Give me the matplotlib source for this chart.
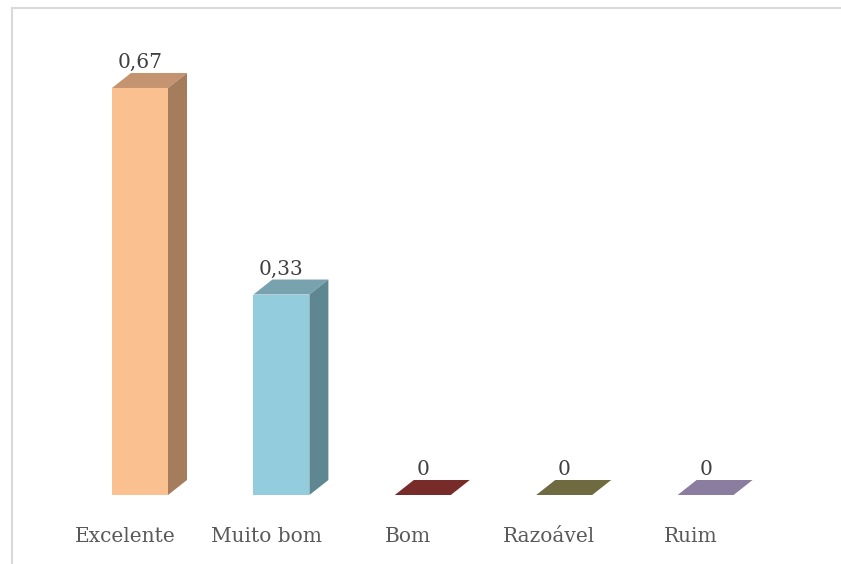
import numpy as np
import matplotlib.pyplot as plt
from matplotlib.patches import Polygon
from matplotlib.lines import Line2D

categories = ['Excelente', 'Muito bom', 'Bom', 'Razoável', 'Ruim']
values = [0.67, 0.33, 0.0, 0.0, 0.0]
value_labels = ['0,67', '0,33', '0', '0', '0']

front_colors = ['#FAC090', '#93CDDD', '#772C2A', '#6F6A40', '#8B7DA0']
top_colors = ['#C3946F', '#77A2AE', '#772C2A', '#6F6A40', '#8B7DA0']
side_colors = ['#A57D5C', '#5E8791', '#5A2120', '#545030', '#6C6080']

W, H = 841, 564
fig = plt.figure(figsize=(W / 100, H / 100), dpi=100)
ax = fig.add_axes([0, 0, 1, 1])

# pixel mapping: x_px = 140 + 141.4*x ; y_px = 495 - 607.5*v
sx, x0 = 141.4, 140
sy, y0 = 607.5, 495
ax.set_xlim(-x0 / sx, (W - x0) / sx)
ax.set_ylim((y0 - H) / sy, y0 / sy)
ax.axis('off')

bw = 56 / sx          # bar width in data units
dx = 19 / sx          # depth offset
dy = 15 / sy

x = np.arange(len(categories))
ax.bar(x, values, width=bw, color=front_colors, zorder=2)

for i, v in enumerate(values):
    l, r = x[i] - bw / 2, x[i] + bw / 2
    top = Polygon([(l, v), (r, v), (r + dx, v + dy), (l + dx, v + dy)],
                  closed=True, facecolor=top_colors[i], edgecolor='none', zorder=3)
    ax.add_patch(top)
    if v > 0:
        side = Polygon([(r, 0), (r + dx, dy), (r + dx, v + dy), (r, v)],
                       closed=True, facecolor=side_colors[i], edgecolor='none', zorder=3)
        ax.add_patch(side)
    ax.text(x[i], v + dy + 1 / sy, value_labels[i], ha='center', va='bottom',
            fontsize=14.5, family='DejaVu Serif', color='#404040')
    ax.text(x[i] - 15 / sx, -42 / sy, categories[i], ha='center', va='center',
            fontsize=14.5, family='DejaVu Serif', color='#595959')

# outer frame (chart border)
fig.add_artist(Line2D([12 / W, 12 / W], [0, 1 - 8 / H], transform=fig.transFigure,
                      color='#D9D9D9', lw=1.5))
fig.add_artist(Line2D([12 / W, 1], [1 - 8 / H, 1 - 8 / H], transform=fig.transFigure,
                      color='#D9D9D9', lw=1.5))

fig.savefig('out.png', dpi=100)
